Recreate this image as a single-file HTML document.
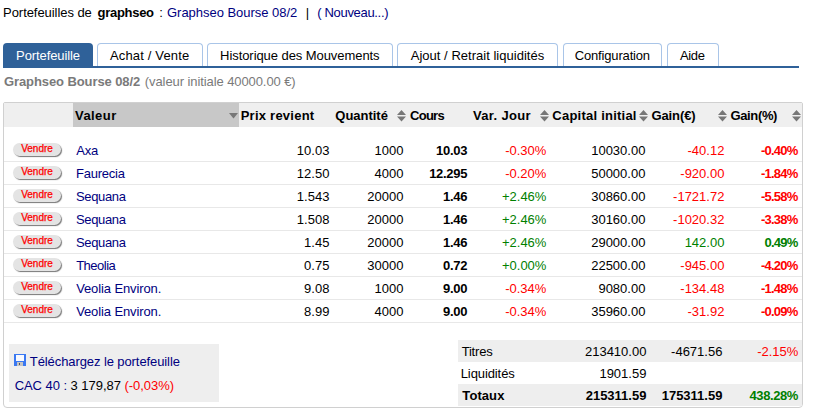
<!DOCTYPE html>
<html><head><meta charset="utf-8"><style>
html,body{margin:0;padding:0;background:#fff;width:814px;height:415px;overflow:hidden;position:relative;font-family:"Liberation Sans", sans-serif;}
.t{position:absolute;white-space:nowrap;line-height:15px;}
.r{position:absolute;box-sizing:border-box;}
.tab{position:absolute;top:43px;height:22px;box-sizing:content-box;border:1px solid #a9c5e8;border-bottom:none;border-radius:4px 4px 0 0;background:#fff;}
.tab.act{background:#2f6199;border:none;height:23px;}
.btn{position:absolute;width:48px;height:13px;border-radius:7px;background:#e4e4e4;box-shadow:1px 1px 1px #777;color:#f00;font-size:10px;line-height:12px;text-align:center;-webkit-text-stroke:0.25px #f00;}
</style></head><body>
<div class="t" id="h1" style="left:3.10px;top:5.00px;font-size:13px;font-weight:normal;color:#000;letter-spacing:-0.060px;">Portefeuilles de</div>
<div class="t" id="h2" style="left:97.54px;top:5.00px;font-size:13px;font-weight:bold;color:#000;letter-spacing:-0.283px;">graphseo</div>
<div class="t" id="h3" style="left:159.18px;top:5.00px;font-size:13px;font-weight:normal;color:#000;">:</div>
<div class="t" id="h4" style="left:167.00px;top:5.00px;font-size:13px;font-weight:normal;color:#000080;letter-spacing:-0.028px;">Graphseo Bourse 08/2</div>
<div class="t" id="h5" style="left:305.72px;top:5.00px;font-size:13px;font-weight:normal;color:#000;">|</div>
<div class="t" id="h6" style="left:317.18px;top:5.00px;font-size:13px;font-weight:normal;color:#000080;letter-spacing:-0.315px;">( Nouveau...)</div>
<div class="tab act" style="left:3px;width:90px;"></div>
<div class="t" id="tab0" style="left:16.10px;top:48.00px;font-size:13px;font-weight:normal;color:#fff;letter-spacing:-0.098px;">Portefeuille</div>
<div class="tab" style="left:97px;width:104px;"></div>
<div class="t" id="tab1" style="left:110.00px;top:48.00px;font-size:13px;font-weight:normal;color:#000;letter-spacing:0.150px;">Achat / Vente</div>
<div class="tab" style="left:207px;width:184px;"></div>
<div class="t" id="tab2" style="left:220.10px;top:48.00px;font-size:13px;font-weight:normal;color:#000;letter-spacing:-0.068px;">Historique des Mouvements</div>
<div class="tab" style="left:397px;width:159px;"></div>
<div class="t" id="tab3" style="left:410.74px;top:48.00px;font-size:13px;font-weight:normal;color:#000;letter-spacing:0.022px;">Ajout / Retrait liquidités</div>
<div class="tab" style="left:563px;width:97px;"></div>
<div class="t" id="tab4" style="left:574.76px;top:48.00px;font-size:13px;font-weight:normal;color:#000;letter-spacing:-0.165px;">Configuration</div>
<div class="tab" style="left:667px;width:50px;"></div>
<div class="t" id="tab5" style="left:680.00px;top:48.00px;font-size:13px;font-weight:normal;color:#000;letter-spacing:-0.360px;">Aide</div>
<div class="r" style="left:3px;top:66px;width:796px;height:2px;background:#2f6199"></div>
<div class="t" id="s1" style="left:4.00px;top:74.00px;font-size:13px;font-weight:bold;color:#7a7a7a;letter-spacing:-0.095px;">Graphseo Bourse 08/2</div>
<div class="t" id="s2" style="left:144.82px;top:74.00px;font-size:13px;font-weight:normal;color:#7a7a7a;letter-spacing:-0.087px;">(valeur initiale 40000.00 &euro;)</div>
<div class="r" style="left:3px;top:102px;width:800px;height:306px;border:1px solid #d0d0d0;border-radius:2px 2px 4px 4px;"></div>
<div class="r" style="left:4px;top:103px;width:798px;height:24px;background:#efefef"></div>
<div class="r" style="left:73px;top:103px;width:166px;height:24px;background:#c8c8c8"></div>
<div class="t" id="hd0" style="left:75.00px;top:108.00px;font-size:13px;font-weight:bold;color:#000;letter-spacing:0.432px;">Valeur</div>
<div class="t" id="hd1" style="left:240.68px;top:108.00px;font-size:13px;font-weight:bold;color:#000;letter-spacing:0.245px;">Prix revient</div>
<div class="t" id="hd2" style="left:335.34px;top:108.00px;font-size:13px;font-weight:bold;color:#000;letter-spacing:-0.026px;">Quantité</div>
<div class="t" id="hd3" style="left:410.00px;top:108.00px;font-size:13px;font-weight:bold;color:#000;letter-spacing:-0.720px;">Cours</div>
<div class="t" id="hd4" style="left:473.00px;top:108.00px;font-size:13px;font-weight:bold;color:#000;letter-spacing:0.338px;">Var. Jour</div>
<div class="t" id="hd5" style="left:552.34px;top:108.00px;font-size:13px;font-weight:bold;color:#000;letter-spacing:0.231px;">Capital initial</div>
<div class="t" id="hd6" style="left:651.42px;top:108.00px;font-size:13px;font-weight:bold;color:#000;letter-spacing:-0.090px;">Gain(€)</div>
<div class="t" id="hd7" style="left:730.50px;top:108.00px;font-size:13px;font-weight:bold;color:#000;letter-spacing:-0.360px;">Gain(%)</div>
<svg class="r" style="left:229px;top:113px" width="9" height="6"><path d="M0 0H9L4.5 5.5Z" fill="#777"/></svg>
<svg class="r" style="left:397px;top:110px" width="9" height="12"><path d="M0 5L4.5 0L9 5Z M0 6.5H9L4.5 11.5Z" fill="#777"/></svg>
<svg class="r" style="left:540px;top:110px" width="9" height="12"><path d="M0 5L4.5 0L9 5Z M0 6.5H9L4.5 11.5Z" fill="#777"/></svg>
<svg class="r" style="left:639px;top:110px" width="9" height="12"><path d="M0 5L4.5 0L9 5Z M0 6.5H9L4.5 11.5Z" fill="#777"/></svg>
<svg class="r" style="left:718px;top:110px" width="9" height="12"><path d="M0 5L4.5 0L9 5Z M0 6.5H9L4.5 11.5Z" fill="#777"/></svg>
<svg class="r" style="left:792px;top:110px" width="9" height="12"><path d="M0 5L4.5 0L9 5Z M0 6.5H9L4.5 11.5Z" fill="#777"/></svg>
<div class="btn" style="left:13px;top:143px">Vendre</div>
<div class="t" id="r0c0" style="left:76.36px;top:143.00px;font-size:13px;font-weight:normal;color:#000080;letter-spacing:-0.270px;">Axa</div>
<div class="t" id="r0c1" style="right:484.60px;text-align:right;top:143.00px;font-size:13px;font-weight:normal;color:#000;">10.03</div>
<div class="t" id="r0c2" style="right:410.60px;text-align:right;top:143.00px;font-size:13px;font-weight:normal;color:#000;">1000</div>
<div class="t" id="r0c3" style="right:346.90px;text-align:right;top:143.00px;font-size:13px;font-weight:bold;color:#000;letter-spacing:-0.300px;">10.03</div>
<div class="t" id="r0c4" style="right:267.60px;text-align:right;top:143.00px;font-size:13px;font-weight:normal;color:#ff0000;">-0.30%</div>
<div class="t" id="r0c5" style="right:168.60px;text-align:right;top:143.00px;font-size:13px;font-weight:normal;color:#000;">10030.00</div>
<div class="t" id="r0c6" style="right:89.60px;text-align:right;top:143.00px;font-size:13px;font-weight:normal;color:#ff0000;">-40.12</div>
<div class="t" id="r0c7" style="right:16.35px;text-align:right;top:143.00px;font-size:13px;font-weight:bold;color:#ff0000;letter-spacing:-0.750px;">-0.40%</div>
<div class="r" style="left:4px;top:161px;width:798px;height:1px;background:#e8e8e8"></div>
<div class="btn" style="left:13px;top:166px">Vendre</div>
<div class="t" id="r1c0" style="left:76.00px;top:166.00px;font-size:13px;font-weight:normal;color:#000080;letter-spacing:-0.231px;">Faurecia</div>
<div class="t" id="r1c1" style="right:484.60px;text-align:right;top:166.00px;font-size:13px;font-weight:normal;color:#000;">12.50</div>
<div class="t" id="r1c2" style="right:410.60px;text-align:right;top:166.00px;font-size:13px;font-weight:normal;color:#000;">4000</div>
<div class="t" id="r1c3" style="right:346.90px;text-align:right;top:166.00px;font-size:13px;font-weight:bold;color:#000;letter-spacing:-0.300px;">12.295</div>
<div class="t" id="r1c4" style="right:267.60px;text-align:right;top:166.00px;font-size:13px;font-weight:normal;color:#ff0000;">-0.20%</div>
<div class="t" id="r1c5" style="right:168.60px;text-align:right;top:166.00px;font-size:13px;font-weight:normal;color:#000;">50000.00</div>
<div class="t" id="r1c6" style="right:89.60px;text-align:right;top:166.00px;font-size:13px;font-weight:normal;color:#ff0000;">-920.00</div>
<div class="t" id="r1c7" style="right:16.35px;text-align:right;top:166.00px;font-size:13px;font-weight:bold;color:#ff0000;letter-spacing:-0.750px;">-1.84%</div>
<div class="r" style="left:4px;top:184px;width:798px;height:1px;background:#e8e8e8"></div>
<div class="btn" style="left:13px;top:189px">Vendre</div>
<div class="t" id="r2c0" style="left:76.00px;top:189.00px;font-size:13px;font-weight:normal;color:#000080;letter-spacing:-0.360px;">Sequana</div>
<div class="t" id="r2c1" style="right:484.60px;text-align:right;top:189.00px;font-size:13px;font-weight:normal;color:#000;">1.543</div>
<div class="t" id="r2c2" style="right:410.60px;text-align:right;top:189.00px;font-size:13px;font-weight:normal;color:#000;">20000</div>
<div class="t" id="r2c3" style="right:346.90px;text-align:right;top:189.00px;font-size:13px;font-weight:bold;color:#000;letter-spacing:-0.300px;">1.46</div>
<div class="t" id="r2c4" style="right:267.60px;text-align:right;top:189.00px;font-size:13px;font-weight:normal;color:#008000;">+2.46%</div>
<div class="t" id="r2c5" style="right:168.60px;text-align:right;top:189.00px;font-size:13px;font-weight:normal;color:#000;">30860.00</div>
<div class="t" id="r2c6" style="right:89.60px;text-align:right;top:189.00px;font-size:13px;font-weight:normal;color:#ff0000;">-1721.72</div>
<div class="t" id="r2c7" style="right:16.35px;text-align:right;top:189.00px;font-size:13px;font-weight:bold;color:#ff0000;letter-spacing:-0.750px;">-5.58%</div>
<div class="r" style="left:4px;top:207px;width:798px;height:1px;background:#e8e8e8"></div>
<div class="btn" style="left:13px;top:212px">Vendre</div>
<div class="t" id="r3c0" style="left:76.00px;top:212.00px;font-size:13px;font-weight:normal;color:#000080;letter-spacing:-0.360px;">Sequana</div>
<div class="t" id="r3c1" style="right:484.60px;text-align:right;top:212.00px;font-size:13px;font-weight:normal;color:#000;">1.508</div>
<div class="t" id="r3c2" style="right:410.60px;text-align:right;top:212.00px;font-size:13px;font-weight:normal;color:#000;">20000</div>
<div class="t" id="r3c3" style="right:346.90px;text-align:right;top:212.00px;font-size:13px;font-weight:bold;color:#000;letter-spacing:-0.300px;">1.46</div>
<div class="t" id="r3c4" style="right:267.60px;text-align:right;top:212.00px;font-size:13px;font-weight:normal;color:#008000;">+2.46%</div>
<div class="t" id="r3c5" style="right:168.60px;text-align:right;top:212.00px;font-size:13px;font-weight:normal;color:#000;">30160.00</div>
<div class="t" id="r3c6" style="right:89.60px;text-align:right;top:212.00px;font-size:13px;font-weight:normal;color:#ff0000;">-1020.32</div>
<div class="t" id="r3c7" style="right:16.35px;text-align:right;top:212.00px;font-size:13px;font-weight:bold;color:#ff0000;letter-spacing:-0.750px;">-3.38%</div>
<div class="r" style="left:4px;top:230px;width:798px;height:1px;background:#e8e8e8"></div>
<div class="btn" style="left:13px;top:235px">Vendre</div>
<div class="t" id="r4c0" style="left:76.00px;top:235.00px;font-size:13px;font-weight:normal;color:#000080;letter-spacing:-0.360px;">Sequana</div>
<div class="t" id="r4c1" style="right:484.60px;text-align:right;top:235.00px;font-size:13px;font-weight:normal;color:#000;">1.45</div>
<div class="t" id="r4c2" style="right:410.60px;text-align:right;top:235.00px;font-size:13px;font-weight:normal;color:#000;">20000</div>
<div class="t" id="r4c3" style="right:346.90px;text-align:right;top:235.00px;font-size:13px;font-weight:bold;color:#000;letter-spacing:-0.300px;">1.46</div>
<div class="t" id="r4c4" style="right:267.60px;text-align:right;top:235.00px;font-size:13px;font-weight:normal;color:#008000;">+2.46%</div>
<div class="t" id="r4c5" style="right:168.60px;text-align:right;top:235.00px;font-size:13px;font-weight:normal;color:#000;">29000.00</div>
<div class="t" id="r4c6" style="right:89.60px;text-align:right;top:235.00px;font-size:13px;font-weight:normal;color:#008000;">142.00</div>
<div class="t" id="r4c7" style="right:16.35px;text-align:right;top:235.00px;font-size:13px;font-weight:bold;color:#008000;letter-spacing:-0.750px;">0.49%</div>
<div class="r" style="left:4px;top:253px;width:798px;height:1px;background:#e8e8e8"></div>
<div class="btn" style="left:13px;top:258px">Vendre</div>
<div class="t" id="r5c0" style="left:76.18px;top:258.00px;font-size:13px;font-weight:normal;color:#000080;letter-spacing:-0.510px;">Theolia</div>
<div class="t" id="r5c1" style="right:484.60px;text-align:right;top:258.00px;font-size:13px;font-weight:normal;color:#000;">0.75</div>
<div class="t" id="r5c2" style="right:410.60px;text-align:right;top:258.00px;font-size:13px;font-weight:normal;color:#000;">30000</div>
<div class="t" id="r5c3" style="right:346.90px;text-align:right;top:258.00px;font-size:13px;font-weight:bold;color:#000;letter-spacing:-0.300px;">0.72</div>
<div class="t" id="r5c4" style="right:267.60px;text-align:right;top:258.00px;font-size:13px;font-weight:normal;color:#008000;">+0.00%</div>
<div class="t" id="r5c5" style="right:168.60px;text-align:right;top:258.00px;font-size:13px;font-weight:normal;color:#000;">22500.00</div>
<div class="t" id="r5c6" style="right:89.60px;text-align:right;top:258.00px;font-size:13px;font-weight:normal;color:#ff0000;">-945.00</div>
<div class="t" id="r5c7" style="right:16.35px;text-align:right;top:258.00px;font-size:13px;font-weight:bold;color:#ff0000;letter-spacing:-0.750px;">-4.20%</div>
<div class="r" style="left:4px;top:276px;width:798px;height:1px;background:#e8e8e8"></div>
<div class="btn" style="left:13px;top:281px">Vendre</div>
<div class="t" id="r6c0" style="left:76.18px;top:281.00px;font-size:13px;font-weight:normal;color:#000080;letter-spacing:-0.116px;">Veolia Environ.</div>
<div class="t" id="r6c1" style="right:484.60px;text-align:right;top:281.00px;font-size:13px;font-weight:normal;color:#000;">9.08</div>
<div class="t" id="r6c2" style="right:410.60px;text-align:right;top:281.00px;font-size:13px;font-weight:normal;color:#000;">1000</div>
<div class="t" id="r6c3" style="right:346.90px;text-align:right;top:281.00px;font-size:13px;font-weight:bold;color:#000;letter-spacing:-0.300px;">9.00</div>
<div class="t" id="r6c4" style="right:267.60px;text-align:right;top:281.00px;font-size:13px;font-weight:normal;color:#ff0000;">-0.34%</div>
<div class="t" id="r6c5" style="right:168.60px;text-align:right;top:281.00px;font-size:13px;font-weight:normal;color:#000;">9080.00</div>
<div class="t" id="r6c6" style="right:89.60px;text-align:right;top:281.00px;font-size:13px;font-weight:normal;color:#ff0000;">-134.48</div>
<div class="t" id="r6c7" style="right:16.35px;text-align:right;top:281.00px;font-size:13px;font-weight:bold;color:#ff0000;letter-spacing:-0.750px;">-1.48%</div>
<div class="r" style="left:4px;top:299px;width:798px;height:1px;background:#e8e8e8"></div>
<div class="btn" style="left:13px;top:304px">Vendre</div>
<div class="t" id="r7c0" style="left:76.18px;top:304.00px;font-size:13px;font-weight:normal;color:#000080;letter-spacing:-0.116px;">Veolia Environ.</div>
<div class="t" id="r7c1" style="right:484.60px;text-align:right;top:304.00px;font-size:13px;font-weight:normal;color:#000;">8.99</div>
<div class="t" id="r7c2" style="right:410.60px;text-align:right;top:304.00px;font-size:13px;font-weight:normal;color:#000;">4000</div>
<div class="t" id="r7c3" style="right:346.90px;text-align:right;top:304.00px;font-size:13px;font-weight:bold;color:#000;letter-spacing:-0.300px;">9.00</div>
<div class="t" id="r7c4" style="right:267.60px;text-align:right;top:304.00px;font-size:13px;font-weight:normal;color:#ff0000;">-0.34%</div>
<div class="t" id="r7c5" style="right:168.60px;text-align:right;top:304.00px;font-size:13px;font-weight:normal;color:#000;">35960.00</div>
<div class="t" id="r7c6" style="right:89.60px;text-align:right;top:304.00px;font-size:13px;font-weight:normal;color:#ff0000;">-31.92</div>
<div class="t" id="r7c7" style="right:16.35px;text-align:right;top:304.00px;font-size:13px;font-weight:bold;color:#ff0000;letter-spacing:-0.750px;">-0.09%</div>
<div class="r" style="left:4px;top:322px;width:798px;height:1px;background:#e8e8e8"></div>
<div class="r" style="left:9px;top:344px;width:210px;height:58px;background:#eeeeee"></div>
<svg class="r" style="left:14px;top:354px" width="12" height="12" viewBox="0 0 12 12"><rect x="0" y="0" width="12" height="12" fill="#3a78f2"/><rect x="2" y="1" width="8" height="6" fill="#f8faff"/><rect x="3" y="8" width="6" height="4" fill="#c4c4c4"/><rect x="5" y="9" width="1" height="2" fill="#555"/></svg>
<div class="t" id="f1" style="left:29.82px;top:354.00px;font-size:13px;font-weight:normal;color:#000080;letter-spacing:-0.090px;">Téléchargez le portefeuille</div>
<div class="t" id="f2" style="left:14.64px;top:378.00px;font-size:13px;font-weight:normal;color:#000080;letter-spacing:-0.043px;">CAC 40 : <span style="color:#000">3 179,87</span> <span style="color:#ff0000">(-0,03%)</span></div>
<div class="r" style="left:458px;top:340px;width:344px;height:22px;background:#eeeeee"></div>
<div class="r" style="left:458px;top:384px;width:344px;height:22px;background:#eeeeee"></div>
<div class="t" id="g1" style="left:461.64px;top:344.00px;font-size:13px;font-weight:normal;color:#000;letter-spacing:-0.180px;">Titres</div>
<div class="t" id="g2" style="right:167.60px;text-align:right;top:344.00px;font-size:13px;font-weight:normal;color:#000;">213410.00</div>
<div class="t" id="g3" style="right:91.60px;text-align:right;top:344.00px;font-size:13px;font-weight:normal;color:#000;">-4671.56</div>
<div class="t" id="g4" style="right:15.60px;text-align:right;top:344.00px;font-size:13px;font-weight:normal;color:#ff0000;">-2.15%</div>
<div class="t" id="g5" style="left:460.74px;top:366.00px;font-size:13px;font-weight:normal;color:#000;letter-spacing:-0.100px;">Liquidités</div>
<div class="t" id="g6" style="right:167.60px;text-align:right;top:366.00px;font-size:13px;font-weight:normal;color:#000;">1901.59</div>
<div class="t" id="g7" style="left:462.36px;top:388.00px;font-size:13px;font-weight:bold;color:#000;letter-spacing:0.072px;">Totaux</div>
<div class="t" id="g8" style="right:167.60px;text-align:right;top:388.00px;font-size:13px;font-weight:bold;color:#000;">215311.59</div>
<div class="t" id="g9" style="right:91.60px;text-align:right;top:388.00px;font-size:13px;font-weight:bold;color:#000;">175311.59</div>
<div class="t" id="g10" style="right:16.00px;text-align:right;top:388.00px;font-size:13px;font-weight:bold;color:#008000;letter-spacing:-0.400px;">438.28%</div>
</body></html>
